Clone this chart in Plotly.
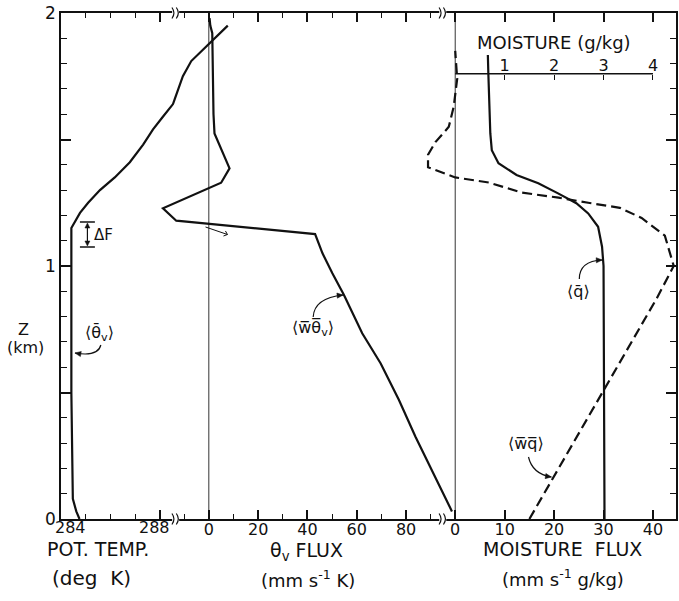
import plotly.graph_objects as go

# ---------------- data ----------------
# mean virtual potential temperature <theta_v> (deg K) vs height (km)
z_theta = [0.00, 0.03, 0.08, 0.50, 1.15, 1.21, 1.25, 1.30, 1.35, 1.41, 1.48, 1.54,
           1.59, 1.64, 1.66, 1.71, 1.75, 1.81, 1.95]
theta_v = [284.75, 284.62, 284.48, 284.42, 284.42, 284.77, 285.10, 285.58, 286.18,
           286.79, 287.33, 287.73, 288.13, 288.54, 288.61, 288.81, 288.94, 289.28, 290.76]

# buoyancy flux <w theta_v> (mm s-1 K)
z_wtheta = [0.03, 0.22, 0.325, 0.47, 0.615, 0.734, 0.885, 0.971, 1.05, 1.126, 1.179,
            1.228, 1.329, 1.386, 1.524, 1.60, 1.92, 1.95, 1.98]
w_theta = [98.6, 89.2, 83.8, 77.1, 69.7, 62.2, 54.8, 50.1, 46.1, 43.1, -13.2,
           -18.6, 5.0, 8.4, 2.3, 1.9, 1.4, 0.6, 0.3]

# moisture flux <wq> (mm s-1 g/kg)
z_wq = [0.00, 0.87, 1.00, 1.05, 1.12, 1.19, 1.23, 1.25, 1.27, 1.29, 1.33, 1.35,
        1.39, 1.44, 1.49, 1.55, 1.63, 1.74, 1.85]
w_q = [15.0, 40.7, 44.2, 43.4, 42.4, 37.7, 33.3, 26.9, 20.9, 13.5, 6.8, 0.0,
       -5.5, -5.5, -4.0, -1.3, -0.3, 0.4, 0.0]

# mean moisture <q> (g/kg)
z_q = [0.00, 1.00, 1.076, 1.155, 1.208, 1.248, 1.287, 1.327, 1.360, 1.406, 1.458,
       1.524, 1.762, 1.834]
q_mean = [3.02, 3.00, 2.97, 2.89, 2.69, 2.45, 2.08, 1.68, 1.24, 0.875, 0.74,
          0.71, 0.67, 0.66]

# tick labels
z_ticks = [0, 0.5, 1, 1.5, 2]
z_ticktext = ['0', '', '1', '', '2']
temp_ticks = [284, 288]
flux_ticks = [0, 20, 40, 60, 80]
mflux_ticks = [0, 10, 20, 30, 40]
moist_ticks = [1, 2, 3, 4]

# ---------------- layout geometry ----------------
INK = '#111111'
FONT = 'DejaVu Sans'
W, H = 679, 601
ML, MR, MT, MB = 61, 1, 13, 82
X0, X1 = ML, W - MR
Y0, Y1 = MT, H - MB
BRK1, BRK2 = 176, 444          # pixel positions of the axis breaks
# linear scales: (reference pixel, value at that pixel, pixels per unit)
SC_T = (61.0, 284.0, 24.75)
SC_F = (209.3, 0.0, 2.474)
SC_M = (456.5, 0.0, 4.96)
SC_Q = (456.5, 0.0, 49.6)
Z_MOIST = 1.76                  # height of the inner moisture axis


def val(sc, px):
    p0, v0, s = sc
    return v0 + (px - p0) / s


def rng(sc, a, b):
    return [val(sc, a), val(sc, b)]


def fx(px):
    return (px - X0) / (X1 - X0)


def fy(py):
    return (Y1 - py) / (Y1 - Y0)


LINE = dict(color=INK, width=2.2)

fig = go.Figure()
fig.add_trace(go.Scatter(x=theta_v, y=z_theta, xaxis='x', yaxis='y', mode='lines',
                         line=LINE, hoverinfo='skip'))
fig.add_trace(go.Scatter(x=w_theta, y=z_wtheta, xaxis='x2', yaxis='y', mode='lines',
                         line=LINE, hoverinfo='skip'))
fig.add_trace(go.Scatter(x=w_q, y=z_wq, xaxis='x3', yaxis='y', mode='lines',
                         line=dict(color=INK, width=2.2, dash='10px,5px'), hoverinfo='skip'))
fig.add_trace(go.Scatter(x=q_mean, y=z_q, xaxis='x4', yaxis='y', mode='lines',
                         line=LINE, hoverinfo='skip'))
for ax in ['x5', 'x6', 'x7', 'x8']:
    fig.add_trace(go.Scatter(x=[None], y=[None], xaxis=ax, yaxis='y', mode='lines',
                             hoverinfo='skip'))

TF = dict(family=FONT, size=16, color=INK)


def tick_axis(domain, r, tickvals, minor_dtick, minor_tick0=0, labels=True):
    return dict(domain=domain, range=r, anchor='y', showline=True, linecolor=INK,
                linewidth=1.5, mirror='ticks', ticks='inside', ticklen=9,
                tickwidth=1.5, tickcolor=INK, tickmode='array', tickvals=tickvals,
                showgrid=False, zeroline=False, showticklabels=labels, tickfont=TF,
                ticklabelstandoff=-5, fixedrange=True,
                minor=dict(dtick=minor_dtick, tick0=minor_tick0, ticks='inside',
                           ticklen=5, tickwidth=1.2, tickcolor=INK, showgrid=False))


hidden = dict(overlaying='x', visible=False, showgrid=False, zeroline=False, fixedrange=True)

fig.update_layout(
    width=W, height=H, margin=dict(l=ML, r=MR, t=MT, b=MB),
    paper_bgcolor='white', plot_bgcolor='rgba(0,0,0,0)', showlegend=False,
    font=dict(family=FONT, color=INK),
    xaxis=dict(domain=[0, 1], range=rng(SC_T, X0, X1), anchor='y', showline=True,
               mirror=True, linecolor=INK, linewidth=1.5, ticks='', showticklabels=False,
               showgrid=False, zeroline=False, fixedrange=True),
    xaxis2=dict(range=rng(SC_F, X0, X1), **hidden),
    xaxis3=dict(range=rng(SC_M, X0, X1), **hidden),
    xaxis4=dict(range=rng(SC_Q, X0, X1), **hidden),
    xaxis5=tick_axis([0, fx(BRK1)], rng(SC_T, X0, BRK1), temp_ticks, 1, 284, labels=False),
    xaxis6=tick_axis([fx(BRK1), fx(BRK2)], rng(SC_F, BRK1, BRK2), flux_ticks, 10),
    xaxis7=tick_axis([fx(BRK2), 1], rng(SC_M, BRK2, X1), mflux_ticks, 10),
    xaxis8=dict(domain=[fx(BRK2), 1], range=rng(SC_Q, BRK2, X1), anchor='free',
                position=Z_MOIST / 2, side='top', showline=False, ticks='inside',
                ticklen=5, tickwidth=1.3, tickcolor=INK, tickmode='array',
                tickvals=moist_ticks, showgrid=False, zeroline=False, tickfont=TF,
                fixedrange=True),
    yaxis=dict(domain=[0, 1], range=[0, 2], anchor='x', showline=True, linecolor=INK,
               linewidth=1.5, mirror='ticks', ticks='inside', ticklen=10, tickwidth=1.5,
               tickcolor=INK, tickmode='array', tickvals=z_ticks, ticktext=z_ticktext,
               tickfont=dict(family=FONT, size=17, color=INK), showgrid=False,
               zeroline=False, fixedrange=True,
               minor=dict(dtick=0.1, tick0=0, ticks='inside', ticklen=6, tickwidth=1.2,
                          tickcolor=INK, showgrid=False)),
)

shapes = []
# zero lines of the two flux scales
for ax in ['x6', 'x7']:
    shapes.append(dict(type='line', xref=ax, yref='y domain', x0=0, x1=0, y0=0, y1=1,
                       line=dict(color='#333333', width=1), layer='below'))
# inner moisture axis line (0 .. 4 g/kg)
shapes.append(dict(type='line', xref='x8', yref='y', x0=0, x1=max(moist_ticks),
                   y0=Z_MOIST, y1=Z_MOIST, line=dict(color=INK, width=1.5)))


def ppath(pts, close=False):
    s = 'M ' + ' L '.join(f'{fx(x):.5f},{fy(y):.5f}' for x, y in pts)
    return s + (' Z' if close else '')


def qpath(p0, c, p1):
    return (f'M {fx(p0[0]):.5f},{fy(p0[1]):.5f} Q {fx(c[0]):.5f},{fy(c[1]):.5f} '
            f'{fx(p1[0]):.5f},{fy(p1[1]):.5f}')


def head(tip, frm, size=6, half=2.6):
    dx, dy = tip[0] - frm[0], tip[1] - frm[1]
    n = (dx * dx + dy * dy) ** 0.5
    ux, uy = dx / n, dy / n
    bx, by = tip[0] - ux * size, tip[1] - uy * size
    p1 = (bx - uy * half, by + ux * half)
    p2 = (bx + uy * half, by - ux * half)
    return dict(type='path', xref='paper', yref='paper', path=ppath([tip, p1, p2], True),
                fillcolor=INK, line=dict(color=INK, width=0.5))


# axis breaks
for bx in [BRK1, BRK2]:
    for by in [Y0, Y1]:
        shapes.append(dict(type='rect', xref='paper', yref='paper',
                           x0=fx(bx - 3.5), x1=fx(bx + 3.5), y0=fy(by + 2), y1=fy(by - 2),
                           fillcolor='white', line=dict(width=0)))
        for d in (-2.2, 2.2):
            shapes.append(dict(type='path', xref='paper', yref='paper',
                               path=qpath((bx + d - 1.5, by - 5.5), (bx + d + 2.5, by),
                                          (bx + d - 1.5, by + 5.5)),
                               line=dict(color=INK, width=1.2)))

# curved label arrows
arrows = [((101, 345), (98, 357), (75, 353)),
          ((314, 317), (315, 298), (344, 295)),
          ((581, 279), (581, 261), (604, 260)),
          ((530, 457), (534, 474), (553, 477))]
for p0, c, p1 in arrows:
    shapes.append(dict(type='path', xref='paper', yref='paper', path=qpath(p0, c, p1),
                       line=dict(color=INK, width=1.2)))
    shapes.append(head(p1, c))

# small pointer near the flux zero crossing
shapes.append(dict(type='path', xref='paper', yref='paper',
                   path=ppath([(206, 227), (228, 234.5)]), line=dict(color=INK, width=1)))
shapes.append(dict(type='path', xref='paper', yref='paper',
                   path=ppath([(226, 231), (228, 234.5), (224, 236)]),
                   line=dict(color=INK, width=1)))

# Delta F bracket
for yy in (222, 247):
    shapes.append(dict(type='path', xref='paper', yref='paper',
                       path=ppath([(80, yy), (95, yy)]), line=dict(color=INK, width=1.5)))
shapes.append(dict(type='path', xref='paper', yref='paper',
                   path=ppath([(87.5, 226), (87.5, 243)]), line=dict(color=INK, width=1.2)))
shapes.append(head((87.5, 223), (87.5, 233), size=5, half=2.5))
shapes.append(head((87.5, 246), (87.5, 236), size=5, half=2.5))

fig.update_layout(shapes=shapes)


def txt(s, x, y, size=16, **kw):
    return dict(text=s, x=fx(x), y=fy(y), xref='paper', yref='paper', showarrow=False,
                xanchor='center', yanchor='middle',
                font=dict(family=FONT, size=size, color=INK), **kw)


ann = [
    txt('Z', 23, 330, 16),
    txt('(km)', 25, 347, 16),
    txt('POT. TEMP.', 98, 549, 19),
    txt('(deg  K)', 92, 578, 20),
    txt('θ<sub>v</sub> FLUX', 307, 551, 19),
    txt('(mm s<sup>-1</sup> K)', 309, 579, 18),
    txt('MOISTURE  FLUX', 564, 549, 19),
    txt('(mm s<sup>-1</sup> g/kg)', 565, 578, 18),
    txt('MOISTURE (g/kg)', 556, 42, 18),
    txt('⟨θ\u0304<sub>v</sub>⟩', 100, 333, 16),
    txt('ΔF', 104, 235, 15),
    txt('⟨w\u0305θ\u0305<sub>v</sub>⟩', 314, 328, 16),
    txt('⟨q\u0304⟩', 580, 292, 16),
    txt('⟨w\u0305q\u0305⟩', 528, 443, 16),
]
# bottom labels of the potential temperature scale
for v, sh in zip(temp_ticks, (9, -5)):
    ann.append(dict(text=str(v), x=v, y=fy(527), xref='x5', yref='paper', xshift=sh,
                    showarrow=False, xanchor='center', yanchor='middle',
                    font=dict(family=FONT, size=16, color=INK)))
fig.update_layout(annotations=ann)

fig.write_html('out.html')
